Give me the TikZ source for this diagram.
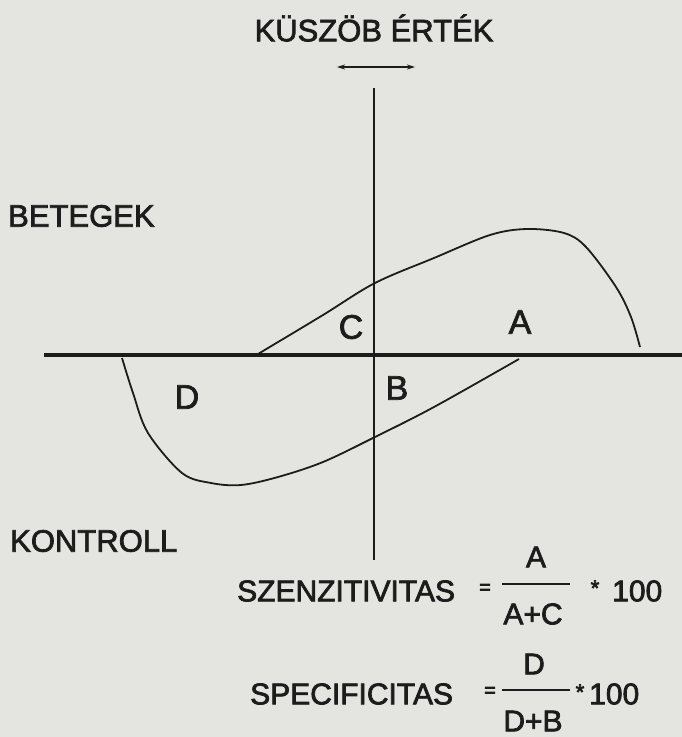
\documentclass[tikz,border=0pt]{standalone}
\usepackage{fontspec}
\setmainfont{Liberation Sans}
\newcommand\heavytext[1]{\special{pdf:literal direct 2 Tr 0.7 w}#1\special{pdf:literal direct 0 Tr}}
\usetikzlibrary{arrows.meta}
\definecolor{paper}{HTML}{E4E5E0}
\definecolor{ink}{HTML}{1C1C1C}
\tikzset{
  lbl/.style={text=ink, inner sep=0pt, font=\fontsize{31}{36}\selectfont},
  area/.style={text=ink, inner sep=0pt, font=\fontsize{34}{38}\selectfont},
  frm/.style={text=ink, inner sep=0pt, font=\fontsize{30}{36}\selectfont},
  axis/.style={draw=ink},
  curve/.style={draw=ink, line width=1.8pt},
  bar/.style={draw=ink, line width=2.6pt},
}
\begin{document}
\begin{tikzpicture}[x=1pt,y=-1pt]
\fill[paper] (0,0) rectangle (682,737);
\useasboundingbox (0,0) rectangle (682,737);

% title and threshold arrow
\node[lbl] (title) at (374,28) {\heavytext{KÜSZÖB ÉRTÉK}};
\coordinate (arrL) at (337,67);
\coordinate (arrR) at (415,67);
\draw[draw=ink, line width=2.6pt, {Stealth[length=8pt,width=5pt]}-{Stealth[length=8pt,width=5pt]}] (arrL) -- (arrR);

% axes
\coordinate (vtop) at (374,88);
\coordinate (vbot) at (374,560);
\coordinate (hl) at (44,355);
\coordinate (hr) at (682,355);
\draw[axis, line width=2.8pt] (vtop) -- (vbot);
\draw[axis, line width=3.6pt] (hl) -- (hr);

% patients curve
\draw[curve] plot[smooth, tension=0.55] coordinates {
  (258,354) (323,315) (375,283) (434,258) (490,235) (527,229)
  (564,233) (586,247) (616,287) (631,317) (640,347)};
% controls curve
\draw[curve] plot[smooth, tension=0.55] coordinates {
  (122,358) (133,393) (148,433) (182,473) (211,483) (241,485)
  (278,477) (323,462) (375,437) (434,407) (519,359)};

% area labels
\node[area] (C) at (351,327) {\heavytext{C}};
\node[area] (A) at (520,322) {\heavytext{A}};
\node[area] (D) at (187,397) {\heavytext{D}};
\node[area] (B) at (397,388) {\heavytext{B}};

% group labels
\node[lbl, anchor=west] (bet) at (8,216) {\heavytext{BETEGEK}};
\node[lbl, anchor=west] (kon) at (10,541) {\heavytext{KONTROLL}};

% sensitivity formula
\node[frm, anchor=west] (szen) at (237,591) {\heavytext{SZENZITIVITAS}};
\node[frm] (eq1) at (485,589) {\fontsize{20}{20}\selectfont\heavytext{=}};
\coordinate (b1l) at (502,584);
\coordinate (b1r) at (570,584);
\draw[bar] (b1l) -- (b1r);
\node[frm] (numA) at (536,557) {\heavytext{A}};
\node[frm] (denAC) at (533,614) {\heavytext{A+C}};
\node[frm] (st1) at (595,588) {\fontsize{22}{22}\selectfont\heavytext{*}};
\node[frm, anchor=west] (h1) at (612,591) {\heavytext{100}};

% specificity formula
\node[frm, anchor=west] (spec) at (250,694) {\heavytext{SPECIFICITAS}};
\node[frm] (eq2) at (490,692) {\fontsize{20}{20}\selectfont\heavytext{=}};
\coordinate (b2l) at (502,690);
\coordinate (b2r) at (570,690);
\draw[bar] (b2l) -- (b2r);
\node[frm] (numD) at (534,664) {\heavytext{D}};
\node[frm] (denDB) at (533,721) {\heavytext{D+B}};
\node[frm] (st2) at (580,692) {\fontsize{22}{22}\selectfont\heavytext{*}};
\node[frm, anchor=west] (h2) at (589,694) {\heavytext{100}};
\end{tikzpicture}
\end{document}
